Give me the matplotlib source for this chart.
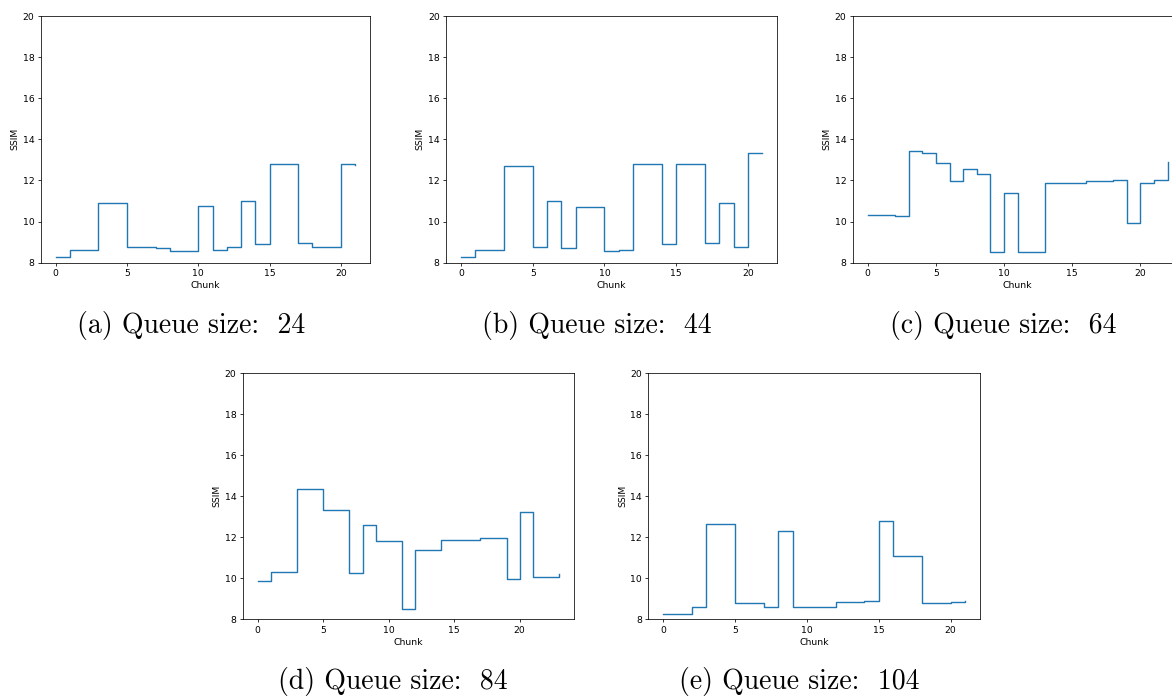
import matplotlib
matplotlib.use("Agg")
import matplotlib.pyplot as plt
import numpy as np

chunks_a = list(range(22))
ssim_a = [8.27, 8.6, 8.6, 10.9, 10.9, 8.75, 8.78, 8.72, 8.58, 8.58, 10.78,
          8.6, 8.78, 11.02, 8.9, 12.8, 12.8, 8.95, 8.78, 8.78, 12.8, 12.75]

chunks_b = list(range(22))
ssim_b = [8.27, 8.62, 8.62, 12.68, 12.68, 8.75, 11.02, 8.72, 10.7, 10.7, 8.58,
          8.62, 12.78, 12.78, 8.9, 12.8, 12.8, 8.95, 10.92, 8.78, 13.33, 13.33]

chunks_c = list(range(23))
ssim_c = [10.32, 10.32, 10.28, 13.45, 13.32, 12.85, 11.97, 12.55, 12.32, 8.52,
          11.38, 8.5, 8.5, 11.88, 11.88, 11.88, 11.97, 11.97, 12.0, 9.95, 11.88,
          12.0, 12.92]

chunks_d = list(range(24))
ssim_d = [9.85, 10.32, 10.32, 14.37, 14.37, 13.33, 13.33, 10.25, 12.62, 11.83,
          11.83, 8.52, 11.38, 11.38, 11.87, 11.87, 11.87, 11.97, 11.97, 9.95,
          13.23, 10.05, 10.05, 10.2]

chunks_e = list(range(22))
ssim_e = [8.27, 8.27, 8.62, 12.67, 12.67, 8.78, 8.78, 8.58, 12.3, 8.58, 8.62,
          8.62, 8.82, 8.82, 8.9, 12.78, 11.1, 11.1, 8.78, 8.78, 8.82, 8.87]

labels = ["a", "b", "c", "d", "e"]
queue_sizes = [24, 44, 64, 84, 104]

W, H = 1172, 698
fig = plt.figure(figsize=(W / 100, H / 100), dpi=100)

# axes boxes in pixels: left, top, width, height
boxes = [(40.7, 16, 329.5, 246.7),
         (446, 16, 331.3, 246.7),
         (852.7, 16, 330, 246.7),
         (242.7, 373.3, 331.3, 246),
         (648.3, 373.3, 331.7, 246)]
caption_pos = [(191.5, 326), (596.5, 326), (1003, 326), (392.5, 682), (799, 682)]

data = [(chunks_a, ssim_a), (chunks_b, ssim_b), (chunks_c, ssim_c),
        (chunks_d, ssim_d), (chunks_e, ssim_e)]

fs = 6.65
for (x, y), (l, t, w, h), lab, q, (cx, cy) in zip(data, boxes, labels,
                                                   queue_sizes, caption_pos):
    ax = fig.add_axes([l / W, 1 - (t + h) / H, w / W, h / H])
    ax.step(x, y, where='post', color='#1f77b4', lw=1.0)
    ax.set_ylim(8, 20)
    ax.set_yticks(np.arange(8, 21, 2))
    ax.set_xticks([0, 5, 10, 15, 20])
    ax.tick_params(labelsize=fs, length=2.3, width=0.55, pad=2.3)
    for s in ax.spines.values():
        s.set_linewidth(0.55)
    ax.set_xlabel("Chunk", fontsize=fs, labelpad=2.3)
    ax.set_ylabel("SSIM", fontsize=fs, labelpad=2.3)
    txt = "(" + lab + ") Queue size:  " + str(q)
    fig.text(cx / W, 1 - cy / H, txt, fontsize=20, family='cmr10',
             ha='center', va='center')

fig.savefig("out.png", dpi=100)
